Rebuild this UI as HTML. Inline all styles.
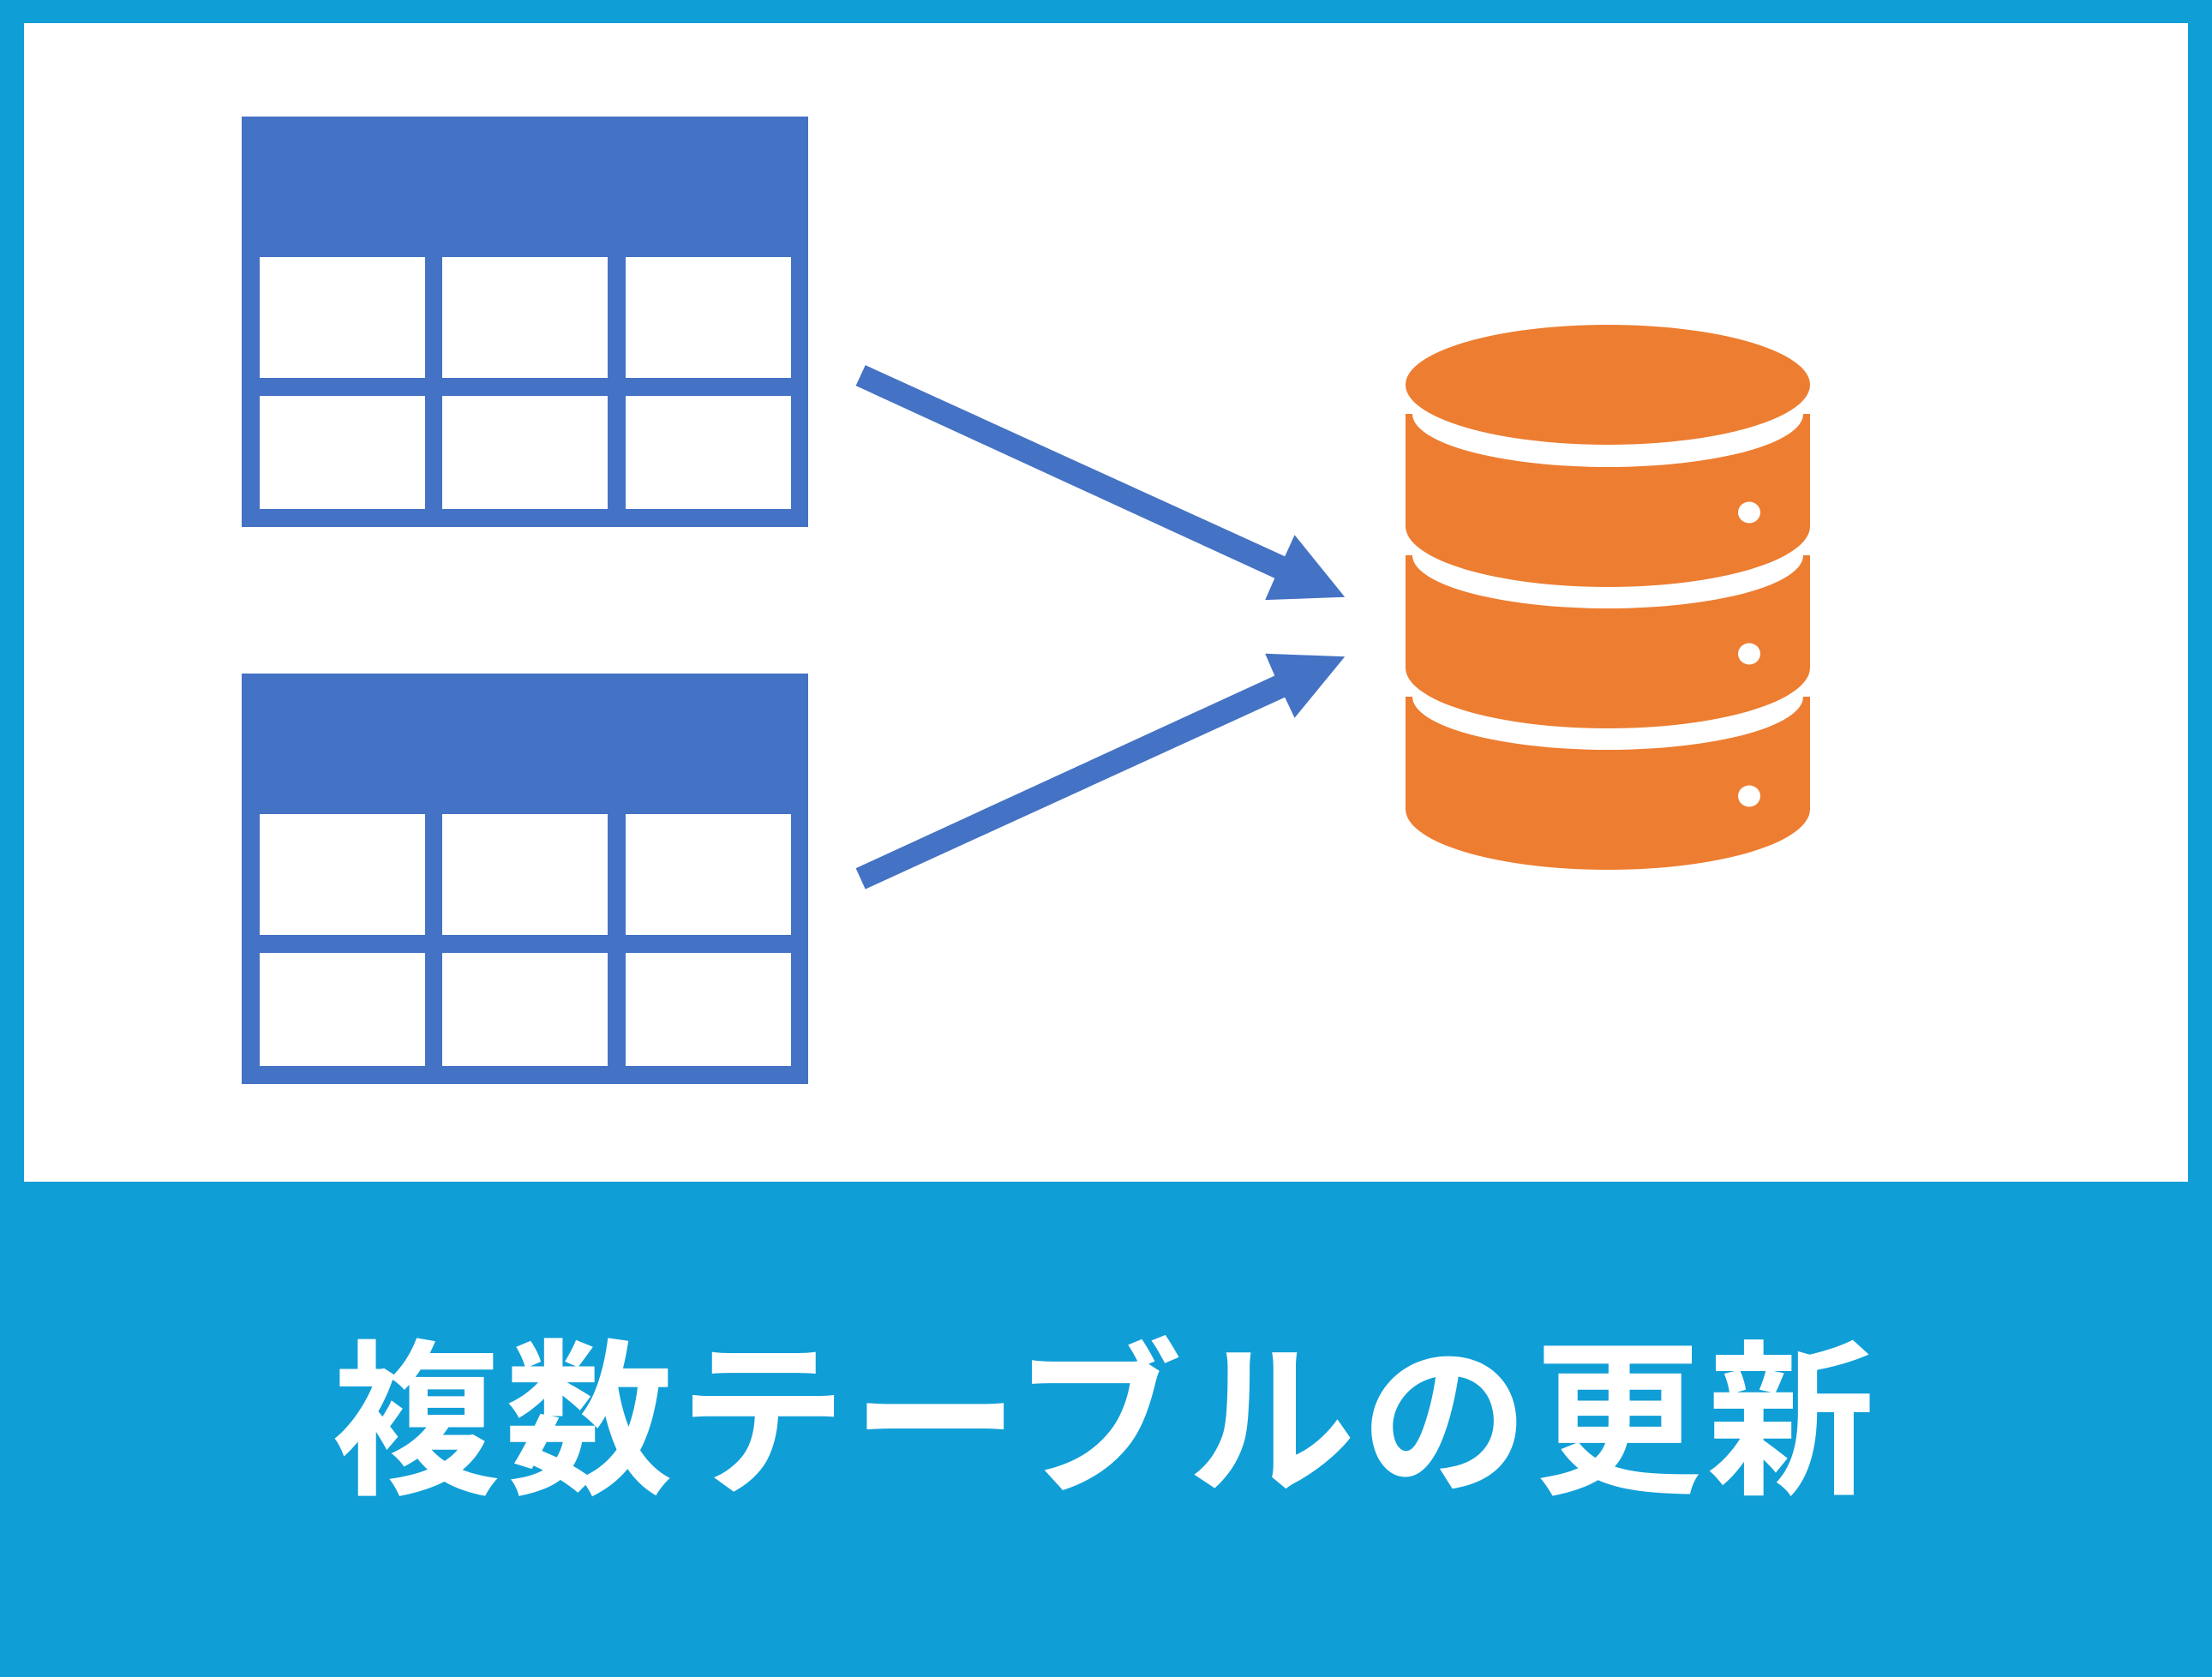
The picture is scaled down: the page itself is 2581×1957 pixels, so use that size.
<!DOCTYPE html>
<html><head><meta charset="utf-8"><style>
html,body{margin:0;padding:0;}
body{width:2581px;height:1957px;overflow:hidden;background:#109ed6;position:relative;}
.w{position:absolute;left:28px;top:27px;width:2525px;height:1352px;background:#fff;}
.t{position:absolute;left:0;top:1551px;width:2581px;text-align:center;color:#fff;font-family:"Liberation Sans","Noto Sans CJK JP",sans-serif;font-weight:bold;font-size:196px;line-height:220px;letter-spacing:6px;}
svg{position:absolute;left:0;top:0;}
</style></head><body>
<div class="w"></div>
<svg width="2581" height="1957" viewBox="0 0 2581 1957">
<g fill="#4472c4">
 <g id="tb">
  <rect x="282" y="136" width="661" height="164"/>
  <rect x="282" y="136" width="21" height="479"/>
  <rect x="496" y="136" width="20" height="479"/>
  <rect x="709" y="136" width="21" height="479"/>
  <rect x="923" y="136" width="20" height="479"/>
  <rect x="282" y="441" width="661" height="21"/>
  <rect x="282" y="594" width="661" height="21"/>
 </g>
 <use href="#tb" transform="translate(0,650)"/>
 <polygon points="1009.7,426.1 1499.2,649.2 1510.6,624.3 1569.2,696.7 1476.2,700.1 1487.3,674.8 998.6,450.1"/>
 <polygon points="998.6,1013.2 1487.3,788.5 1476.2,762.8 1569.2,766.2 1510.6,837.7 1499.2,813.7 1009.7,1037.6"/>
</g>
<g fill="#ed7d31">
 <ellipse cx="1876" cy="449" rx="236" ry="70"/>
 <path id="sg" d="M1640,483 H1648 A228,62 0 0 0 2104,483 H2112 V614 A236,71 0 0 1 1640,614 Z"/>
 <use href="#sg" transform="translate(0,165)"/>
 <use href="#sg" transform="translate(0,330)"/>
</g>
<g fill="#fff">
 <ellipse cx="2041" cy="598" rx="13" ry="12.5"/>
 <ellipse cx="2041" cy="763" rx="13" ry="12.5"/>
 <ellipse cx="2041" cy="929" rx="13" ry="12.5"/>
</g>
</svg>
<div class="t">複数テーブルの更新</div>
</body></html>
